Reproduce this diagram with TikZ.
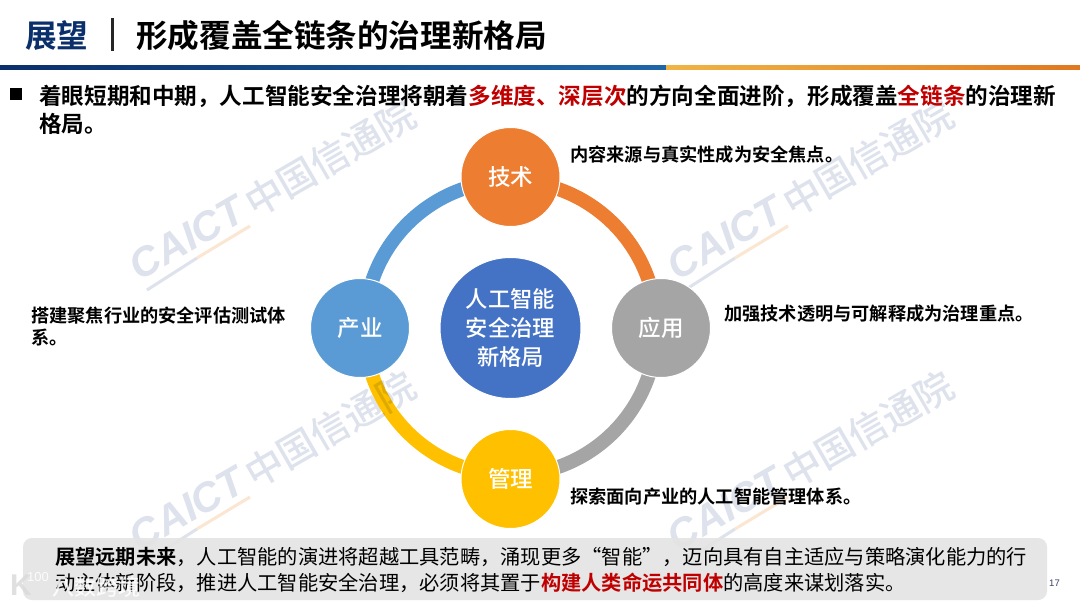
\documentclass[tikz,border=0pt]{standalone}
\usepackage{fontspec}
\setmainfont{Noto Sans CJK SC}[BoldFont={Noto Sans CJK SC Medium}]
\newfontfamily\cjkheavy{Noto Sans CJK SC Bold}
\newfontfamily\latinf{Liberation Sans}
\usetikzlibrary{calc}
\definecolor{navy}{HTML}{0B2F6B}
\definecolor{barblue}{HTML}{0B2F6B}
\definecolor{barmid}{HTML}{1F66A8}
\definecolor{baryel}{HTML}{F0B445}
\definecolor{barorange}{HTML}{E07820}
\definecolor{hred}{HTML}{C00000}
\definecolor{corange}{HTML}{ED7D31}
\definecolor{cgray}{HTML}{A5A5A5}
\definecolor{cgold}{HTML}{FFC000}
\definecolor{cblue}{HTML}{5B9BD5}
\definecolor{ccenter}{HTML}{4472C4}
\definecolor{wm}{HTML}{DDE2EC}
\definecolor{wmo}{HTML}{FBE6D2}
\definecolor{boxgray}{HTML}{E4E4E4}
\definecolor{pgnum}{HTML}{3A4070}
\tikzset{
 hub/.style={circle,draw=white,line width=1pt,minimum size=99pt,inner sep=0pt,text=white,font=\fontsize{22.5}{26}\selectfont\bfseries},
 ringarc/.style={line width=14pt},
 body/.style={anchor=north west,inner sep=0pt,align=left,text=black},
 note/.style={anchor=west,inner sep=0pt,align=left,text=black,font=\fontsize{18.2}{22}\selectfont\cjkheavy},
 overlay text/.style={inner sep=0pt,text=white,opacity=.85},
}
\newcommand{\wmark}[2]{%
 \begin{scope}[shift={(#1,#2)}]
  \node[rotate=30,inner sep=0pt,text=wm,font=\latinf\fontsize{41}{41}\selectfont\bfseries\itshape] at (0,0) {CAICT};
  \node[rotate=30,inner sep=0pt,text=wm,font=\fontsize{38}{38}\selectfont\bfseries] at (143,-80) {中国信通院};
  \draw[wm,line width=3pt] (-40,52) -- (10,20);
  \draw[wmo,line width=3pt] (10,20) -- (63,-12);
 \end{scope}}
\begin{document}
\begin{tikzpicture}[x=1pt,y=-1pt]
\useasboundingbox (0,0) rectangle (1080,608);
\fill[white] (0,0) rectangle (1080,608);
% watermarks
\wmark{187}{238}\wmark{725}{238}\wmark{187}{509}\wmark{725}{509}
% title
\node[anchor=west,inner sep=0pt,text=navy,font=\fontsize{31.6}{34}\selectfont\cjkheavy] (t1) at (25,36) {展望};
\coordinate (s1) at (112.5,18); \coordinate (s2) at (112.5,51);
\draw[line width=2.5pt,black!85] (s1) -- (s2);
\node[anchor=west,inner sep=0pt,text=black,font=\fontsize{31.6}{34}\selectfont\cjkheavy] (t2) at (136,36) {形成覆盖全链条的治理新格局};
\shade[left color=barblue,right color=barmid] (0,65) rectangle (666,69);
\shade[left color=baryel,right color=barorange] (666,65) rectangle (1080,69);
% bullet text
\fill[black] (10,88) rectangle (22,100);
\node[body,font=\fontsize{22.6}{28}\selectfont\cjkheavy] (intro) at (39,84.5) {着眼短期和中期，人工智能安全治理将朝着\textcolor{hred}{多维度、深层次}的方向全面进阶，形成覆盖\textcolor{hred}{全链条}的治理新\\格局。};
% hubs
\coordinate (ct) at (510.5,328);
\coordinate (at1) at (510.5,177);\coordinate (at2) at (661,328);\coordinate (at3) at (510.5,479);\coordinate (at4) at (360,328);
\coordinate (r1) at (510.5,181);\coordinate (r2) at (656.5,328);\coordinate (r3) at (510.5,475);\coordinate (r4) at (364.5,328);
\draw[ringarc,corange] (r1) .. controls +(80.6,0) and +(0,-81.2) .. (r2);
\draw[ringarc,cgray] (r2) .. controls +(0,81.2) and +(80.6,0) .. (r3);
\draw[ringarc,cgold,blend mode=multiply] (r3) .. controls +(-80.6,0) and +(0,81.2) .. (r4);
\draw[ringarc,cblue] (r4) .. controls +(0,-81.2) and +(-80.6,0) .. (r1);
\node[hub,fill=corange] (tech) at (at1) {技术};
\node[hub,fill=cgray] (app) at (at2) {应用};
\node[hub,fill=cgold] (mgmt) at (at3) {管理};
\node[hub,fill=cblue] (ind) at (at4) {产业};
\node[hub,fill=ccenter,minimum size=141pt,font=\fontsize{22.3}{29}\selectfont\bfseries,align=center] (core) at (ct) {人工智能\\安全治理\\新格局};
% notes
\node[note] (n1) at (570,155) {内容来源与真实性成为安全焦点。};
\node[note] (n2) at (724,314) {加强技术透明与可解释成为治理重点。};
\node[note] (n3) at (570,497) {探索面向产业的人工智能管理体系。};
\node[note,anchor=north west] (n4) at (31,306.5) {搭建聚焦行业的安全评估测试体\\系。};
% bottom box
\fill[boxgray,fill opacity=.92,rounded corners=9pt] (23,538) rectangle (1047,600);
\node[body,font=\fontsize{20.25}{26}\selectfont] (foot) at (55,547.5) {{\cjkheavy 展望远期未来}，人工智能的演进将超越工具范畴，涌现更多“智能”，迈向具有自主适应与策略演化能力的行\\动主体新阶段，推进人工智能安全治理，必须将其置于\textcolor{hred}{\cjkheavy 构建人类命运共同体}的高度来谋划落实。};
\node[anchor=east,inner sep=0pt,text=pgnum,font=\latinf\fontsize{9.5}{10}\selectfont] (pg) at (1060,583) {17};
% image-host overlay
\node[overlay text,text=black!14,font=\latinf\fontsize{30}{30}\selectfont\bfseries] (lg1) at (21,585) {K};
\node[overlay text,font=\latinf\fontsize{13}{13}\selectfont] (lg2) at (38,577) {100};
\node[overlay text,anchor=west,font=\fontsize{22}{22}\selectfont\bfseries] (lg3) at (52,587) {八数跨境};
\end{tikzpicture}
\end{document}
